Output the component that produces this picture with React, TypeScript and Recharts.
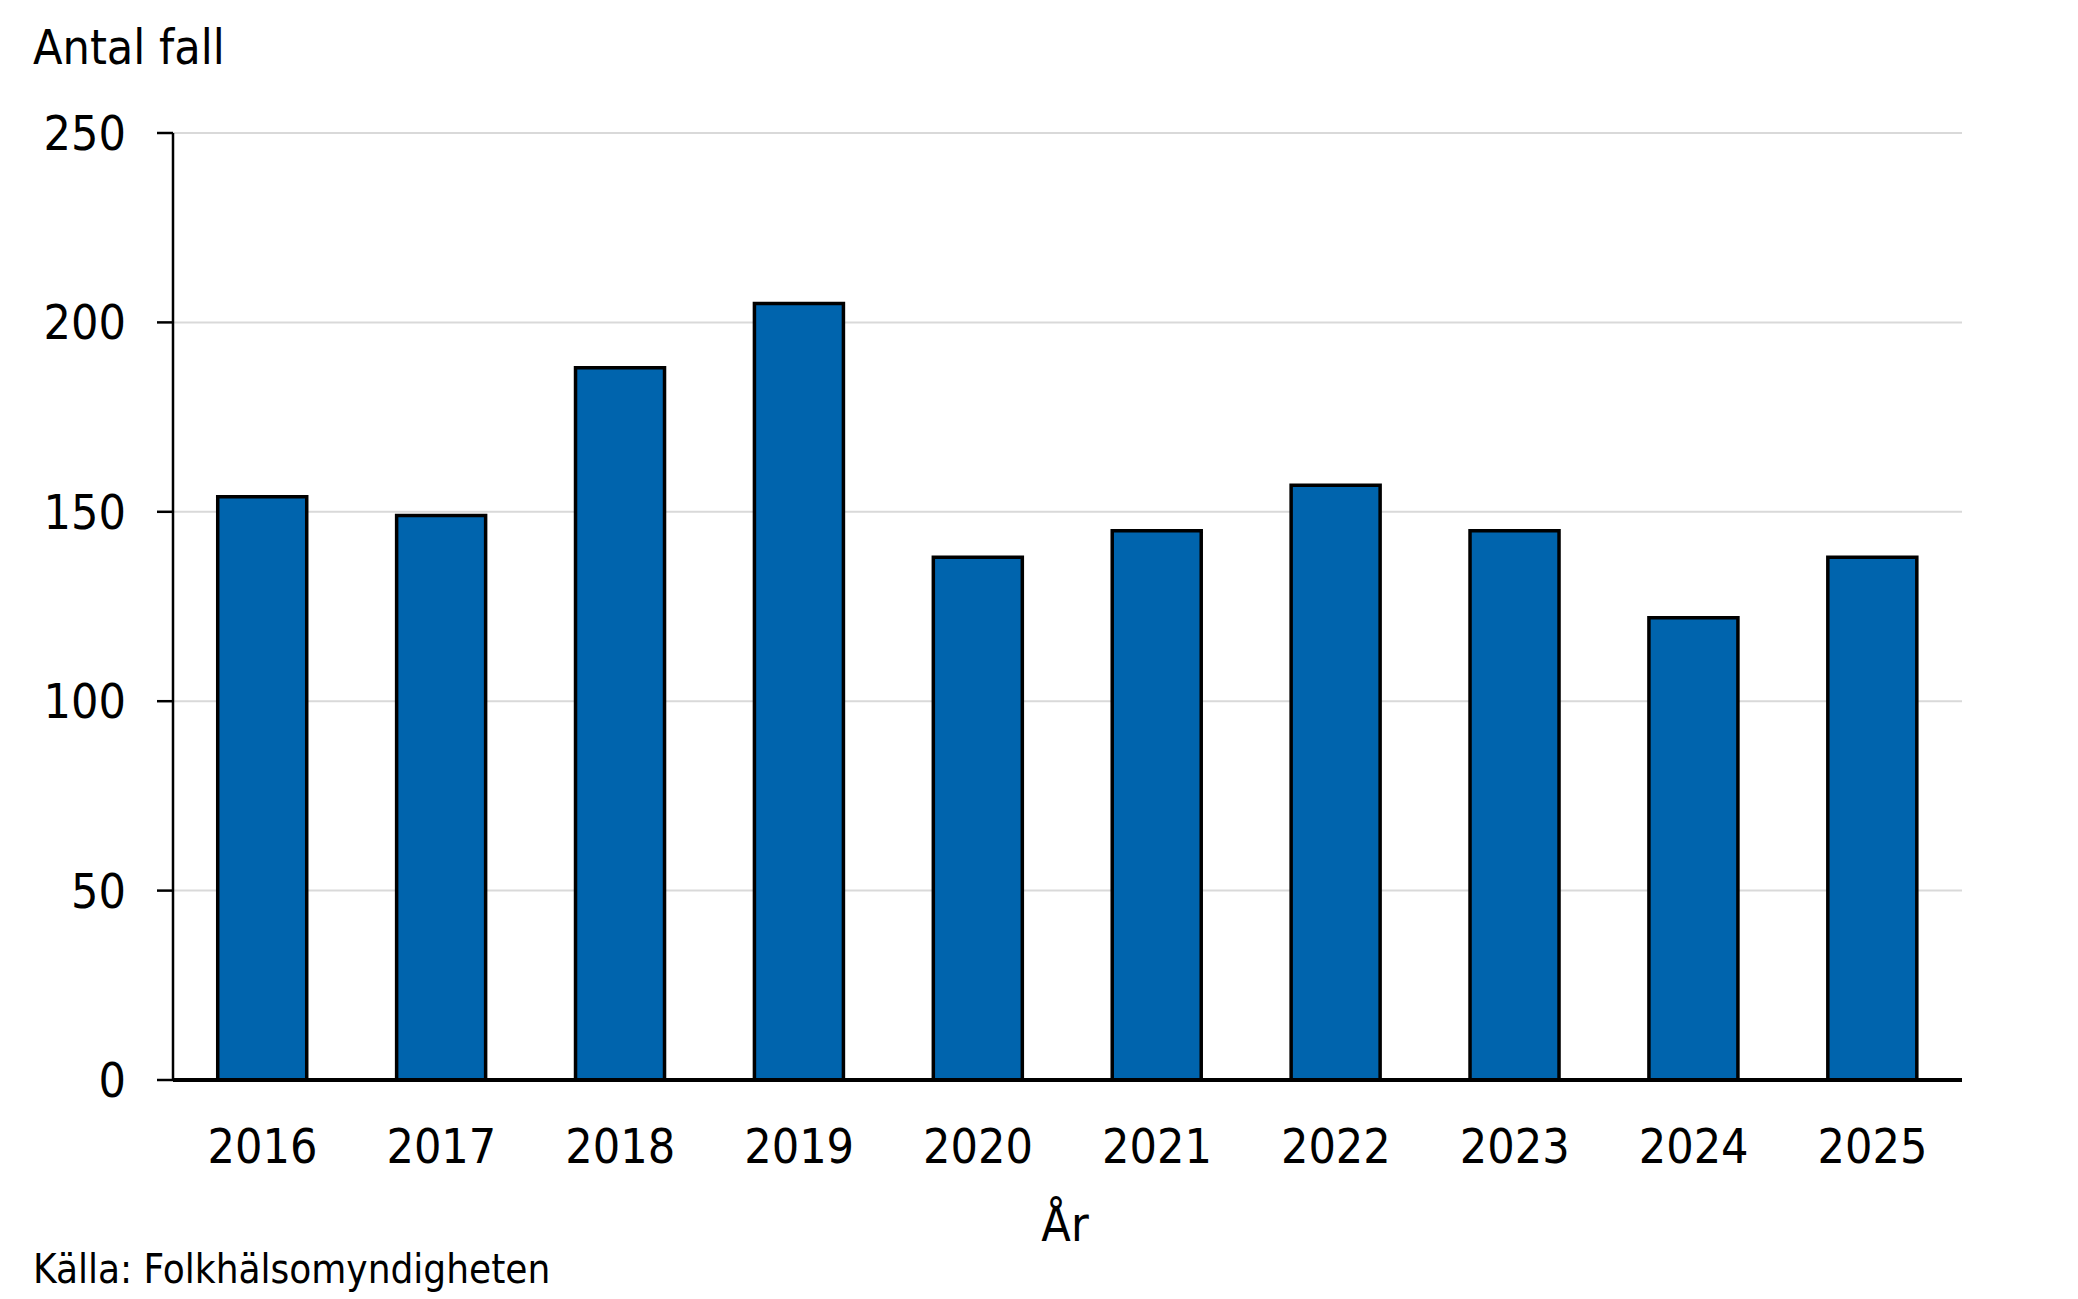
import { BarChart, Bar, XAxis, YAxis, CartesianGrid } from "recharts";

const YEARS = ["2016", "2017", "2018", "2019", "2020", "2021", "2022", "2023", "2024", "2025"];
const CASES = [154, 149, 188, 205, 138, 145, 157, 145, 122, 138];
const Y_TICKS = [0, 50, 100, 150, 200, 250];

const FONT = "'DejaVu Sans Condensed', 'DejaVu Sans', Verdana, sans-serif";
const BAR_BLUE = "#0064AD";

const W = 2078;
const H = 1299;

export default function App() {
  const data = YEARS.map((year, i) => ({ year, cases: CASES[i] }));

  return (
    <div style={{ position: "absolute", left: 0, top: 0, width: W, height: H, background: "#fff", fontFamily: FONT }}>
      <BarChart
        width={W}
        height={H}
        data={data}
        margin={{ top: 133, right: 116, left: 73, bottom: 159 }}
        barCategoryGap="25%"
      >
        <CartesianGrid vertical={false} stroke="#d9d9d9" strokeWidth={2} />
        <XAxis
          dataKey="year"
          height={60}
          tickLine={false}
          tickSize={0}
          tickMargin={49}
          axisLine={{ stroke: "#000", strokeWidth: 4 }}
          tick={{ fill: "#000", fontSize: 48, fontFamily: FONT }}
        />
        <YAxis
          width={100}
          domain={[0, 250]}
          ticks={Y_TICKS}
          interval={0}
          tickSize={16}
          tickMargin={31}
          axisLine={{ stroke: "#000", strokeWidth: 2.5 }}
          tickLine={{ stroke: "#000", strokeWidth: 2.5 }}
          tick={{ fill: "#000", fontSize: 48, fontFamily: FONT }}
        />
        <Bar dataKey="cases" fill={BAR_BLUE} stroke="#000" strokeWidth={3.5} isAnimationActive={false} />
      </BarChart>
      <svg
        width={W}
        height={H}
        style={{ position: "absolute", left: 0, top: 0, pointerEvents: "none" }}
      >
        <text x={33} y={64} fontSize={48} fontFamily={FONT} fill="#000">Antal fall</text>
        <text x={1065} y={1241} fontSize={48} fontFamily={FONT} fill="#000" textAnchor="middle">År</text>
        <text x={33} y={1283} fontSize={40} fontFamily={FONT} fill="#000">Källa: Folkhälsomyndigheten</text>
      </svg>
    </div>
  );
}
